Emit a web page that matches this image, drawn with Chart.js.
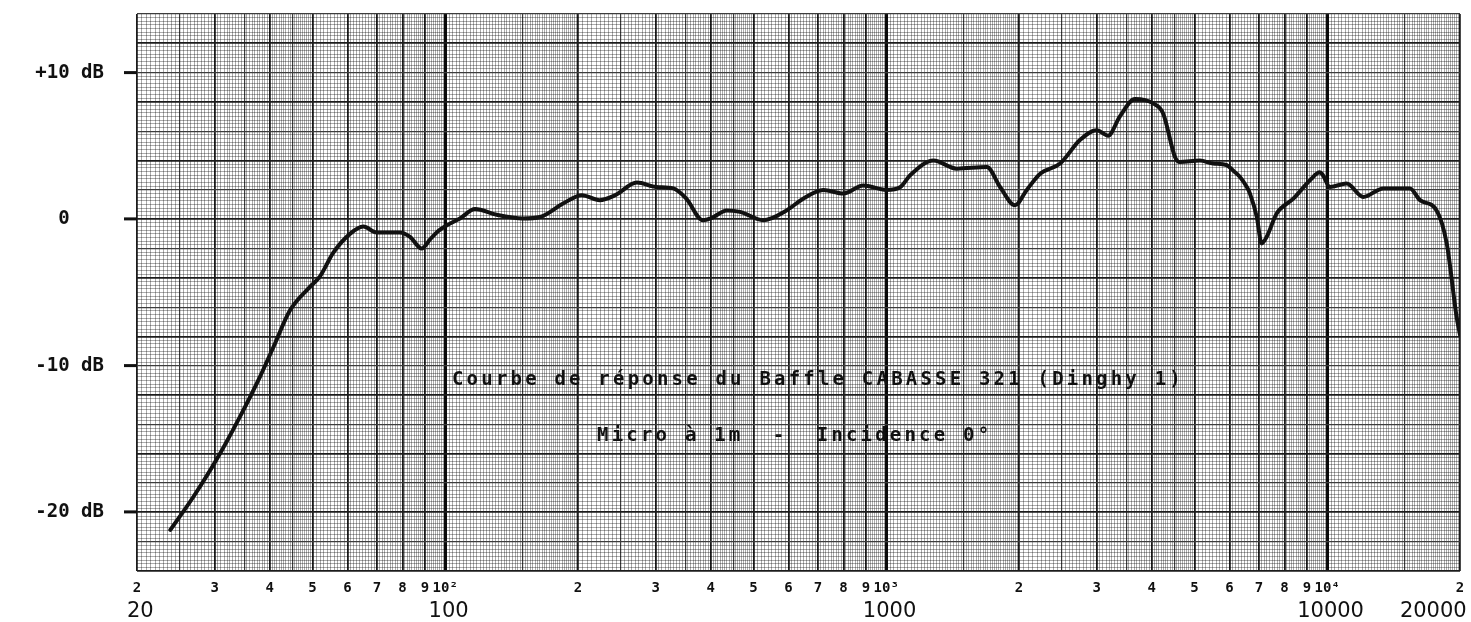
<!DOCTYPE html>
<html lang="fr">
<head>
<meta charset="UTF-8">
<title>Courbe de réponse CABASSE 321</title>
<script src="https://cdn.jsdelivr.net/npm/chart.js"></script>
<style>
  body { margin: 0; background: #fff; }
  canvas { display: block; }
</style>
</head>
<body>

<canvas id="courbe" width="1471" height="622"></canvas>

<script>
  const frequences = [23.8, 26.9, 30.3, 34.2, 38, 40.8, 44.5, 49.4, 52, 55.7, 60.8, 65.2, 69.9, 78.9, 83.2, 88.4, 92.3, 95.6,
    102.5, 108, 116.8, 130.8, 150, 164, 185, 204, 224, 243, 272, 301, 329, 352, 384, 400, 435, 466, 526, 594, 648, 720, 799, 887,
    1000, 1077, 1133, 1280, 1445, 1691, 1812, 1959, 2083, 2234, 2479, 2749, 3000, 3185, 3385, 3664, 4031, 4247, 4516, 4633,
    5143, 5510, 5910, 6125, 6335, 6570, 6680, 6921, 7100, 7290, 7680, 8377, 9140, 9620, 9780, 10140, 11060, 12070, 13400,
    15400, 16230, 17700, 18660, 19650, 20000];
  const niveaux = [-21.2, -18.9, -16.4, -13.5, -10.75, -8.7, -6.2, -4.6, -3.9, -2.3, -1.0, -0.5, -0.9, -0.9, -1.2, -2.0, -1.4, -0.9,
    -0.3, 0.05, 0.7, 0.3, 0.05, 0.15, 1.07, 1.64, 1.3, 1.64, 2.5, 2.2, 2.1, 1.4, -0.07, 0.05, 0.6, 0.5, -0.07, 0.6, 1.4, 2.0, 1.75, 2.3,
    2.0, 2.2, 3.0, 4.0, 3.45, 3.56, 2.2, 0.95, 2.0, 3.1, 3.8, 5.4, 6.07, 5.7, 7.0, 8.2, 7.9, 7.2, 4.25, 3.9,
    4.0, 3.8, 3.7, 3.3, 2.9, 2.2, 1.75, 0.16, -1.65, -1.2, 0.39, 1.4, 2.66, 3.2, 3.0, 2.2, 2.43, 1.52, 2.1,
    2.1, 1.3, 0.6, -1.65, -6.66, -7.9];

  // graduations
  const chiffresTicks = [20, 30, 40, 50, 60, 70, 80, 90, 100, 200, 300, 400, 500, 600, 700, 800, 900, 1000,
    2000, 3000, 4000, 5000, 6000, 7000, 8000, 9000, 10000, 20000];
  const chiffresLabels = ['2', '3', '4', '5', '6', '7', '8', '9', '10²', '2', '3', '4', '5', '6', '7', '8', '9', '10³',
    '2', '3', '4', '5', '6', '7', '8', '9', '10⁴', '2'];
  const freqTicks = [20, 100, 1000, 10000, 20000];
  const freqLabels = ['20', '100', '1000', '10000', '20000'];
  const dbTicks = [10, 0, -10, -20];
  const dbLabels = ['+10 dB', '0   ', '-10 dB', '-20 dB'];

  const titres = [
    { texte: 'Courbe de réponse du Baffle CABASSE 321 (Dinghy 1)', f: 700, db: -11 },
    { texte: 'Micro à 1m  -  Incidence 0°', f: 620, db: -14.8 }
  ];

  // lignes du papier millimétré log
  function lignesFreq() {
    let out = [];
    for (const d of [10, 100, 1000, 10000]) {
      for (let k = 0; k < 50; k++) out.push(d * (1 + k * 0.02));
      for (let k = 0; k < 60; k++) out.push(d * (2 + k * 0.05));
      for (let k = 0; k < 50; k++) out.push(d * (5 + k * 0.1));
    }
    return out.map(v => Math.round(v * 1000) / 1000).filter(v => v >= 20 && v <= 20000);
  }

  function lignesDb() {
    let out = [];
    for (let i = 0; i <= 152; i++) out.push(-24 + i * 0.25);
    return out;
  }

  function typeFreq(v) {
    const d = Math.pow(10, Math.floor(Math.log10(v) + 1e-9));
    const m = Math.round(v / d * 1000) / 1000;
    if (m === 1) return 'decade';
    if (Number.isInteger(m)) return 'major';
    if (m < 5 && Number.isInteger(m * 2)) return 'medium';
    return 'fine';
  }

  function typeDb(v) {
    if (v % 4 === 0) return 'major';
    if (v % 2 === 0) return 'medium';
    return 'fine';
  }

  const couleurs = { decade: '#0a0a0a', major: '#1c1c1c', medium: '#3c3c3c', fine: 'rgba(0,0,0,0.33)' };
  const epaisseurs = { decade: 3, major: 1.8, medium: 1.2, fine: 1 };

  const sansMarge = (scale) => {
    scale.paddingLeft = 0;
    scale.paddingRight = 0;
    scale.paddingTop = 0;
    scale.paddingBottom = 0;
  };

  const pluginTitres = {
    id: 'titres',
    afterDraw(chart) {
      const ctx = chart.ctx;
      ctx.save();
      ctx.font = 'bold 19px "DejaVu Sans Mono"';
      ctx.letterSpacing = '3.2px';
      ctx.fillStyle = '#111';
      ctx.textAlign = 'center';
      ctx.textBaseline = 'middle';
      titres.forEach(t => {
        ctx.fillText(t.texte, chart.scales.x.getPixelForValue(t.f), chart.scales.y.getPixelForValue(t.db));
      });
      ctx.restore();
    }
  };

  new Chart(document.getElementById('courbe'), {
    type: 'line',
    data: {
      datasets: [{
        data: frequences.map((f, i) => ({ x: f, y: niveaux[i] })),
        borderColor: '#111',
        borderWidth: 4,
        pointRadius: 0,
        cubicInterpolationMode: 'monotone',
        borderCapStyle: 'round',
        borderJoinStyle: 'round',
        xAxisID: 'x',
        yAxisID: 'y'
      }]
    },
    options: {
      responsive: false,
      animation: false,
      layout: { padding: { top: 14, right: 11, left: 0, bottom: 0 } },
      plugins: { legend: { display: false }, tooltip: { enabled: false } },
      scales: {
        x: {
          type: 'logarithmic',
          position: 'bottom',
          min: 20,
          max: 20000,
          afterBuildTicks: (scale) => { scale.ticks = lignesFreq().map(v => ({ value: v })); },
          afterFit: (scale) => { sansMarge(scale); scale.height = 28; },
          border: { display: false },
          grid: {
            drawTicks: false,
            color: (c) => couleurs[typeFreq(c.tick.value)],
            lineWidth: (c) => epaisseurs[typeFreq(c.tick.value)]
          },
          ticks: {
            autoSkip: false,
            maxRotation: 0,
            minRotation: 0,
            padding: 9,
            color: '#111',
            font: { family: 'DejaVu Sans Mono', size: 14, weight: 'bold' },
            callback: (v) => {
              const i = chiffresTicks.indexOf(Math.round(v));
              return (i >= 0 && Math.abs(v - chiffresTicks[i]) < 0.01) ? chiffresLabels[i] : '';
            }
          }
        },
        x2: {
          type: 'logarithmic',
          position: 'bottom',
          min: 20,
          max: 20000,
          afterBuildTicks: (scale) => { scale.ticks = freqTicks.map(v => ({ value: v })); },
          afterFit: (scale) => { sansMarge(scale); scale.height = 23; },
          border: { display: false },
          grid: { display: false, drawTicks: false },
          ticks: {
            autoSkip: false,
            maxRotation: 0,
            minRotation: 0,
            padding: 0,
            color: '#111',
            font: { family: 'DejaVu Sans', size: 21 },
            callback: (v) => {
              const i = freqTicks.indexOf(v);
              if (i < 0) return '';
              return v === 20000 ? freqLabels[i] + '        ' : ' ' + freqLabels[i];
            }
          }
        },
        y: {
          type: 'linear',
          min: -24,
          max: 14,
          afterBuildTicks: (scale) => { scale.ticks = lignesDb().map(v => ({ value: v })); },
          afterFit: (scale) => { sansMarge(scale); scale.width = 137; },
          border: { display: false },
          grid: {
            color: (c) => couleurs[typeDb(c.tick.value)],
            lineWidth: (c) => epaisseurs[typeDb(c.tick.value)],
            tickLength: 13,
            tickColor: (c) => dbTicks.includes(c.tick.value) ? '#111' : 'rgba(0,0,0,0)',
            tickWidth: (c) => dbTicks.includes(c.tick.value) ? 3 : 0
          },
          ticks: {
            autoSkip: false,
            padding: 20,
            color: '#111',
            font: { family: 'DejaVu Sans Mono', size: 19, weight: 'bold' },
            callback: (v) => {
              const i = dbTicks.indexOf(v);
              return i >= 0 ? dbLabels[i] : '';
            }
          }
        }
      }
    },
    plugins: [pluginTitres]
  });
</script>

</body>
</html>
